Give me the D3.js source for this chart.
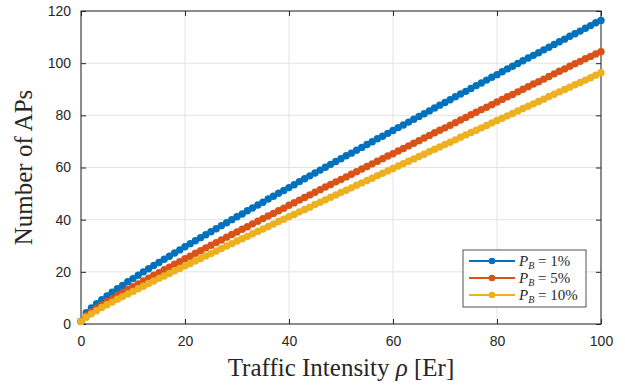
<!DOCTYPE html>
<html>
<head>
<meta charset="utf-8">
<script src="https://cdn.jsdelivr.net/npm/d3@7"></script>
<style>
body { margin: 0; background: #fff; }
.tick text { font-family: "Liberation Sans", Arial, sans-serif; font-size: 14px; fill: #262626; }
</style>
</head>
<body>
<div id="graphId"></div>
<script>
var wt = 625;
var ht = 386;
var margin = { top: 11, right: 24, bottom: 62, left: 81 };
var width = wt - margin.left - margin.right;
var height = ht - margin.top - margin.bottom;

// traffic intensity rho [Er], 0..100
var rho = d3.range(0, 101);

// number of APs
var pb1 = [1.0, 4.3, 6.2, 7.8, 9.3, 10.8, 12.2, 13.5, 14.8, 16.2,
    17.4, 18.7, 20.0, 21.2, 22.4, 23.6, 24.8, 26.0, 27.2, 28.4,
    29.6, 30.8, 31.9, 33.1, 34.2, 35.4, 36.5, 37.7, 38.8, 40.0,
    41.1, 42.2, 43.4, 44.5, 45.6, 46.7, 47.9, 49.0, 50.1, 51.2,
    52.3, 53.4, 54.6, 55.7, 56.8, 57.9, 59.0, 60.1, 61.2, 62.3,
    63.4, 64.5, 65.5, 66.6, 67.7, 68.8, 69.9, 71.0, 72.0, 73.1,
    74.2, 75.3, 76.3, 77.4, 78.5, 79.6, 80.6, 81.7, 82.8, 83.9,
    84.9, 86.0, 87.1, 88.2, 89.2, 90.3, 91.4, 92.4, 93.5, 94.6,
    95.6, 96.7, 97.8, 98.8, 99.9, 100.9, 102.0, 103.0, 104.0, 105.1,
    106.1, 107.2, 108.2, 109.2, 110.3, 111.3, 112.3, 113.4, 114.4, 115.5,
    116.4];
var pb5 = [1.0, 3.2, 4.7, 6.1, 7.3, 8.6, 9.7, 10.9, 12.1, 13.2,
    14.3, 15.4, 16.5, 17.6, 18.7, 19.7, 20.8, 21.8, 22.9, 23.9,
    25.0, 26.0, 27.1, 28.1, 29.2, 30.2, 31.2, 32.2, 33.3, 34.3,
    35.3, 36.3, 37.3, 38.4, 39.4, 40.4, 41.4, 42.4, 43.4, 44.4,
    45.5, 46.5, 47.5, 48.5, 49.5, 50.5, 51.5, 52.5, 53.5, 54.5,
    55.4, 56.4, 57.4, 58.4, 59.4, 60.4, 61.4, 62.4, 63.4, 64.4,
    65.3, 66.3, 67.3, 68.3, 69.3, 70.3, 71.3, 72.3, 73.3, 74.3,
    75.2, 76.2, 77.2, 78.2, 79.2, 80.2, 81.2, 82.2, 83.1, 84.1,
    85.1, 86.1, 87.1, 88.0, 89.0, 90.0, 91.0, 92.0, 92.9, 93.9,
    94.9, 95.9, 96.9, 97.8, 98.8, 99.8, 100.7, 101.7, 102.6, 103.5,
    104.4];
var pb10 = [1.0, 2.6, 3.9, 5.1, 6.3, 7.4, 8.4, 9.5, 10.5, 11.5,
    12.5, 13.5, 14.5, 15.5, 16.5, 17.5, 18.4, 19.4, 20.4, 21.3,
    22.3, 23.2, 24.2, 25.1, 26.1, 27.0, 28.0, 28.9, 29.9, 30.8,
    31.8, 32.7, 33.6, 34.6, 35.5, 36.4, 37.4, 38.3, 39.3, 40.2,
    41.1, 42.0, 43.0, 43.9, 44.8, 45.8, 46.7, 47.6, 48.6, 49.5,
    50.4, 51.3, 52.2, 53.2, 54.1, 55.0, 55.9, 56.9, 57.8, 58.7,
    59.6, 60.6, 61.5, 62.4, 63.3, 64.2, 65.1, 66.1, 67.0, 67.9,
    68.8, 69.7, 70.6, 71.6, 72.5, 73.4, 74.3, 75.2, 76.1, 77.1,
    78.0, 78.9, 79.8, 80.7, 81.7, 82.6, 83.5, 84.4, 85.3, 86.2,
    87.2, 88.1, 89.0, 89.9, 90.8, 91.7, 92.6, 93.5, 94.4, 95.4,
    96.3];

var seriesNames = ["1%", "5%", "10%"];
var seriesVals = [pb1, pb5, pb10];
var colors = ["#0072BD", "#D95319", "#EDB120"];
var xTicks = [0, 20, 40, 60, 80, 100];
var yTicks = [0, 20, 40, 60, 80, 100, 120];

var svg = d3.select("#graphId").append("svg")
    .attr("width", wt)
    .attr("height", ht)
    .style("font-family", "'Liberation Sans', Arial, sans-serif");
var g = svg.append("g")
    .attr("transform", "translate(" + margin.left + "," + margin.top + ")");

var x = d3.scaleLinear().domain([0, 100]).range([0, width]);
var y = d3.scaleLinear().domain([0, 120]).range([height, 0]);

// grid
g.append("g").selectAll("line.gx").data(xTicks).enter().append("line")
    .attr("x1", function (d) { return x(d); })
    .attr("x2", function (d) { return x(d); })
    .attr("y1", 0).attr("y2", height)
    .attr("stroke", "#e3e3e3").attr("stroke-width", 1);
g.append("g").selectAll("line.gy").data(yTicks).enter().append("line")
    .attr("x1", 0).attr("x2", width)
    .attr("y1", function (d) { return y(d); })
    .attr("y2", function (d) { return y(d); })
    .attr("stroke", "#e3e3e3").attr("stroke-width", 1);

// axes (ticks inside, box on)
var axColor = "#262626";
function styleAxis(sel, hideText) {
    sel.select(".domain").remove();
    sel.selectAll(".tick line").attr("stroke", axColor);
    if (hideText) sel.selectAll(".tick text").remove();
}
g.append("g")
    .attr("transform", "translate(0," + height + ")")
    .call(d3.axisBottom(x).tickValues(xTicks).tickSizeInner(-5).tickSizeOuter(0).tickPadding(12))
    .call(styleAxis, false);
g.append("g")
    .call(d3.axisTop(x).tickValues(xTicks).tickSizeInner(-5).tickSizeOuter(0))
    .call(styleAxis, true);
g.append("g")
    .call(d3.axisLeft(y).tickValues(yTicks).tickSizeInner(-5).tickSizeOuter(0).tickPadding(10))
    .call(styleAxis, false);
g.append("g")
    .attr("transform", "translate(" + width + ",0)")
    .call(d3.axisRight(y).tickValues(yTicks).tickSizeInner(-5).tickSizeOuter(0))
    .call(styleAxis, true);

g.append("rect")
    .attr("width", width).attr("height", height)
    .attr("fill", "none").attr("stroke", axColor).attr("stroke-width", 1);

// series
var line = d3.line()
    .x(function (d, i) { return x(rho[i]); })
    .y(function (d) { return y(d); });

seriesVals.forEach(function (vals, k) {
    g.append("path")
        .datum(vals)
        .attr("fill", "none")
        .attr("stroke", colors[k])
        .attr("stroke-width", 2.5)
        .attr("d", line);
    g.append("g").selectAll("circle").data(vals).enter().append("circle")
        .attr("cx", function (d, i) { return x(rho[i]); })
        .attr("cy", function (d) { return y(d); })
        .attr("r", 3.7)
        .attr("fill", colors[k]);
});

// axis labels
svg.append("text")
    .attr("x", margin.left + width / 2)
    .attr("y", 376)
    .attr("text-anchor", "middle")
    .style("font-family", "'Liberation Serif', 'Times New Roman', serif")
    .style("font-size", "25px")
    .attr("fill", axColor)
    .html("Traffic Intensity <tspan font-style='italic'>&#961;</tspan> [Er]");

svg.append("text")
    .attr("transform", "translate(32," + (margin.top + height / 2) + ") rotate(-90)")
    .attr("text-anchor", "middle")
    .style("font-family", "'Liberation Serif', 'Times New Roman', serif")
    .style("font-size", "25px")
    .attr("fill", axColor)
    .text("Number of APs");

// legend
var lg = svg.append("g").attr("transform", "translate(463,250)");
lg.append("rect")
    .attr("width", 123).attr("height", 57)
    .attr("fill", "#fff").attr("stroke", axColor).attr("stroke-width", 0.8);
seriesNames.forEach(function (name, k) {
    var row = lg.append("g").attr("transform", "translate(0," + (11 + k * 17) + ")");
    row.append("line").attr("x1", 6).attr("x2", 52).attr("y1", 0).attr("y2", 0)
        .attr("stroke", colors[k]).attr("stroke-width", 2);
    row.append("circle").attr("cx", 29).attr("cy", 0).attr("r", 3.3).attr("fill", colors[k]);
    var t = row.append("text")
        .attr("x", 56).attr("y", 5)
        .style("font-family", "'Liberation Serif', 'Times New Roman', serif")
        .style("font-size", "15px")
        .attr("fill", axColor);
    t.append("tspan").attr("font-style", "italic").text("P");
    t.append("tspan").attr("font-style", "italic").attr("font-size", "10px").attr("dy", 3).text("B");
    t.append("tspan").attr("dy", -3).text(" = " + name);
});
</script>
</body>
</html>
